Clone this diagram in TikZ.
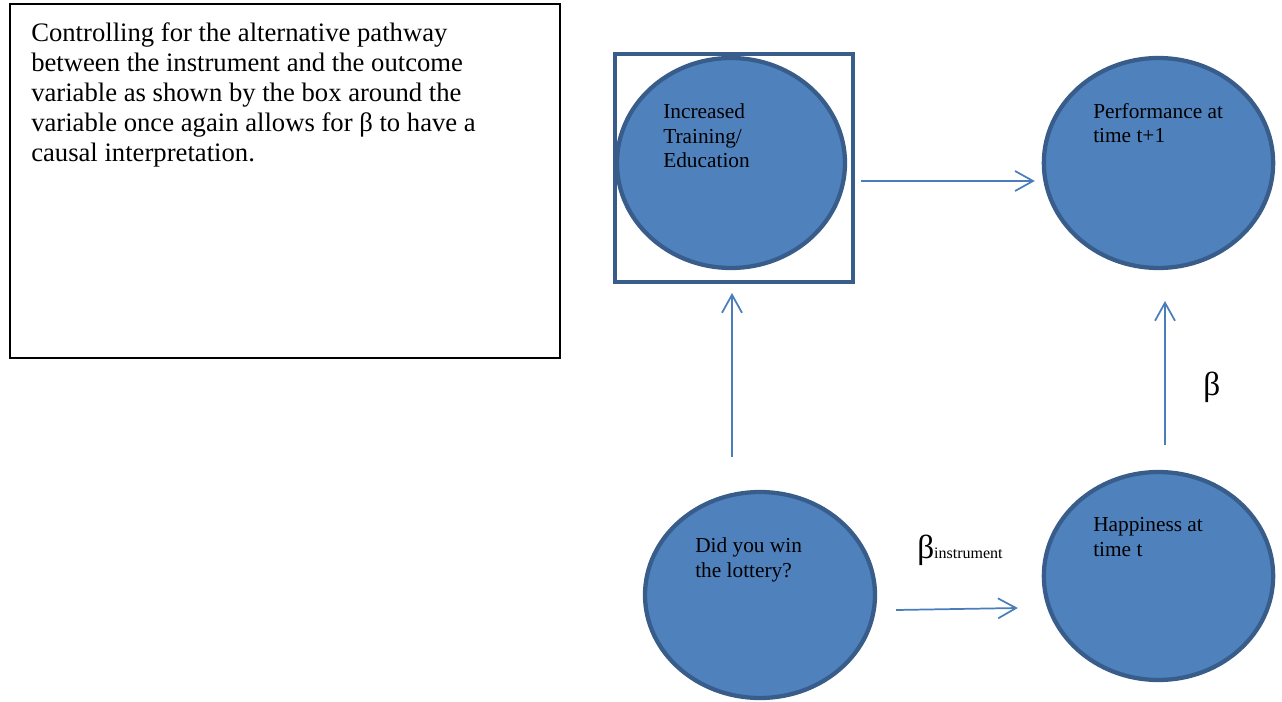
\documentclass[tikz,border=0pt]{standalone}
\usepackage{fontspec}
\setmainfont{Liberation Serif}
\usetikzlibrary{shapes.geometric,arrows.meta,calc}
\definecolor{nodefill}{HTML}{4F81BD}
\definecolor{nodeline}{HTML}{385D8A}
\definecolor{arrowcol}{HTML}{4A7EBB}
\tikzset{
  bubble/.style={ellipse, draw=nodeline, fill=nodefill, line width=3.2pt, inner sep=0pt, outer sep=0pt},
  bubbletext/.style={anchor=base west, align=left, inner sep=0pt, font=\fontsize{16}{18.4}\selectfont},
  arr/.style={draw=arrowcol, line width=1.3pt, -{Straight Barb[length=13.5pt,width=15pt,line width=1.3pt]}},
  ctrlbox/.style={draw=black, line width=0.8pt}
}
\begin{document}
\begin{tikzpicture}[x=0.75pt,y=-0.75pt]
\useasboundingbox (0,0) rectangle (1282,702);
% explanation box
\draw[ctrlbox] (10,4) rectangle (560,358);
\node[anchor=base west, align=left, inner sep=0pt, font=\fontsize{20}{22.5}\selectfont] (expl) at (31,162)
  {Controlling for the alternative pathway\\
   between the instrument and the outcome\\
   variable as shown by the box around the\\
   variable once again allows for β to have a\\
   causal interpretation.};
% square around training node
\node[draw=nodeline, line width=3.2pt, minimum width=178.5pt, minimum height=171pt, inner sep=0pt, outer sep=0pt] (sq) at (734,168) {};
% ellipses
\node[bubble, minimum width=171pt, minimum height=157.5pt] (train) at (731,163) {};
\node[bubble, minimum width=172pt, minimum height=157.5pt] (perf) at (1158.5,163) {};
\node[bubble, minimum width=172.5pt, minimum height=154.5pt] (lot) at (760,595) {};
\node[bubble, minimum width=172pt, minimum height=156pt] (happy) at (1158.5,576) {};
% texts (anchored at the baseline of their last line)
\node[bubbletext] (ttrain) at (663,168) {Increased\\Training/\\Education};
\node[bubbletext] (tperf) at (1093,143) {Performance at\\time t+1};
\node[bubbletext] (tlot) at (695,577) {Did you win\\the lottery?};
\node[bubbletext] (thappy) at (1093,556) {Happiness at\\time t};
% arrows
\draw[arr] ($(sq.east)+(8,13)$) -- ($(perf.west)+(-9,18)$);
\draw[arr] ($(lot.north)+(-28,-35)$) -- ($(sq.south)+(-2,11)$);
\draw[arr] ($(lot.east)+(21,15)$) -- ($(happy.west)+(-26,32)$);
\draw[arr] ($(happy.north)+(6.5,-27)$) -- ($(perf.south)+(6.5,33)$);
% labels
\node[anchor=base west, inner sep=0pt, font=\fontsize{25}{25}\selectfont] (lbeta) at (1203,396) {β};
\node[anchor=base west, inner sep=0pt] (lbinst) at (917,558) {\fontsize{25}{25}\selectfont β\fontsize{12}{14}\selectfont instrument};
\end{tikzpicture}
\end{document}
